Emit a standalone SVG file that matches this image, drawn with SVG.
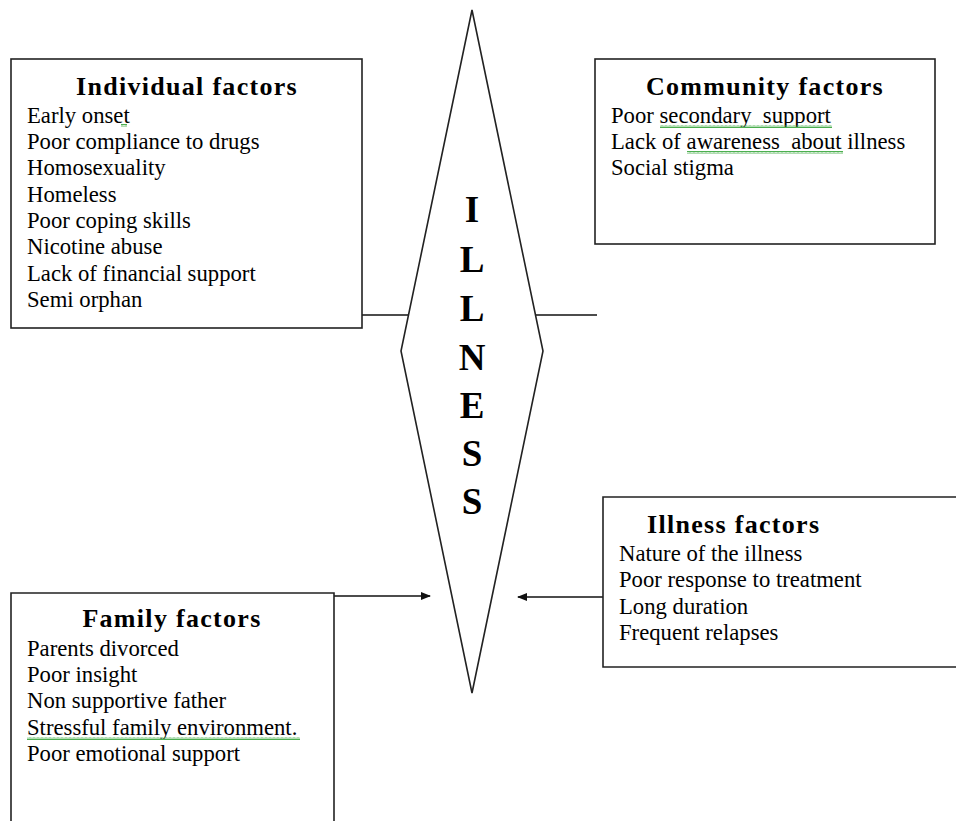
<svg xmlns="http://www.w3.org/2000/svg" width="956" height="821" viewBox="0 0 956 821">
  <style>
    .box { fill: #fff; stroke: #222; stroke-width: 1.6; }
    .link { fill: none; stroke: #111; stroke-width: 1.4; }
    .title { font-family: "Liberation Serif", "Times New Roman", serif; font-weight: bold; font-size: 26px; letter-spacing: 1.3px; fill: #000; }
    .item { font-family: "Liberation Serif", "Times New Roman", serif; font-size: 22.7px; fill: #000; white-space: pre; }
    .big { font-family: "Liberation Serif", "Times New Roman", serif; font-weight: bold; font-size: 37px; fill: #000; text-anchor: middle; }
    .squiggle { fill: none; stroke: #4caf50; stroke-width: 1; }
  </style>
  <defs>
    <marker id="arrow" markerWidth="10" markerHeight="8" refX="9" refY="4" orient="auto" markerUnits="userSpaceOnUse">
      <path d="M0,0 L10,4 L0,8 Z" fill="#111"/>
    </marker>
    <pattern id="wave" width="4" height="3" patternUnits="userSpaceOnUse">
      <path d="M0,2.5 L1,0.5 L2,2.5 L3,0.5 L4,2.5" class="squiggle"/>
    </pattern>
  </defs>

  <rect width="956" height="821" fill="#fff"/>

  <!-- connectors -->
  <g id="connectors">
    <line class="link" x1="362" y1="315" x2="408" y2="315"/>
    <line class="link" x1="536" y1="315" x2="597" y2="315"/>
    <line class="link" x1="334" y1="596" x2="430" y2="596" marker-end="url(#arrow)"/>
    <line class="link" x1="603" y1="597" x2="518" y2="597" marker-end="url(#arrow)"/>
  </g>

  <!-- central diamond -->
  <g id="illness">
    <polygon class="box" points="472,10 543,351 472,693 401,351" stroke-width="1.4"/>
    <text class="big" x="472" y="222">I</text>
    <text class="big" x="472" y="272">L</text>
    <text class="big" x="472" y="321">L</text>
    <text class="big" x="472" y="370">N</text>
    <text class="big" x="472" y="418">E</text>
    <text class="big" x="472" y="466">S</text>
    <text class="big" x="472" y="514">S</text>
  </g>

  <!-- individual factors -->
  <g id="individual-factors">
    <rect class="box" x="11" y="59" width="351" height="269"/>
    <text class="title" x="187" y="95" text-anchor="middle">Individual factors</text>
    <text class="item" x="27" y="123">Early onset</text>
    <text class="item" x="27" y="149">Poor compliance to drugs</text>
    <text class="item" x="27" y="175">Homosexuality</text>
    <text class="item" x="27" y="202">Homeless</text>
    <text class="item" x="27" y="228">Poor coping skills</text>
    <text class="item" x="27" y="254">Nicotine abuse</text>
    <text class="item" x="27" y="281">Lack of financial support</text>
    <text class="item" x="27" y="307">Semi orphan</text>
    <rect x="121" y="124" width="6" height="3" fill="url(#wave)"/>
  </g>

  <!-- community factors -->
  <g id="community-factors">
    <rect class="box" x="595" y="59" width="340" height="185"/>
    <text class="title" x="765" y="95" text-anchor="middle">Community factors</text>
    <text class="item" x="611" y="123">Poor secondary  support</text>
    <text class="item" x="611" y="149">Lack of awareness  about illness</text>
    <text class="item" x="611" y="175">Social stigma</text>
    <rect x="660" y="125" width="172" height="3" fill="url(#wave)"/>
    <rect x="687" y="151" width="156" height="3" fill="url(#wave)"/>
  </g>

  <!-- family factors -->
  <g id="family-factors">
    <path class="box" d="M11,830 L11,593 L334,593 L334,830"/>
    <text class="title" x="172" y="627" text-anchor="middle">Family factors</text>
    <text class="item" x="27" y="656">Parents divorced</text>
    <text class="item" x="27" y="682">Poor insight</text>
    <text class="item" x="27" y="708">Non supportive father</text>
    <text class="item" x="27" y="735">Stressful family environment.</text>
    <text class="item" x="27" y="761">Poor emotional support</text>
    <rect x="27" y="737" width="273" height="3" fill="url(#wave)"/>
  </g>

  <!-- illness factors -->
  <g id="illness-factors">
    <path class="box" d="M966,497 L603,497 L603,667 L966,667"/>
    <text class="title" x="647" y="533">Illness factors</text>
    <text class="item" x="619" y="561">Nature of the illness</text>
    <text class="item" x="619" y="587">Poor response to treatment</text>
    <text class="item" x="619" y="614">Long duration</text>
    <text class="item" x="619" y="640">Frequent relapses</text>
  </g>
</svg>
